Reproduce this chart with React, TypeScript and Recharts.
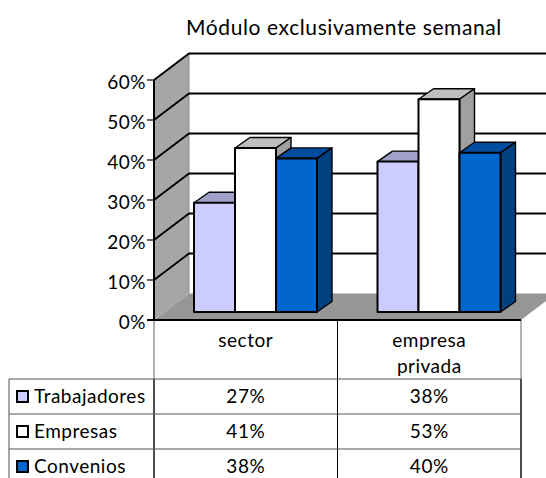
import React from 'react';
import { BarChart, Bar, XAxis, YAxis, Customized } from 'recharts';

const categories = ['sector', 'empresa privada'];
const categoryLines = [['sector'], ['empresa', 'privada']];
const trabajadores = [27.3, 37.6];
const empresas = [41, 53.2];
const convenios = [38.4, 39.8];
const yTicks = [0, 10, 20, 30, 40, 50, 60];

const seriesNames = ['Trabajadores', 'Empresas', 'Convenios'];
const seriesValues = [trabajadores, empresas, convenios];
const seriesColors = [
  { front: '#CCCCFF', top: '#A0A0C8', side: '#9898C0' },
  { front: '#FFFFFF', top: '#BFBFBF', side: '#A0A0A0' },
  { front: '#0066CC', top: '#004C9E', side: '#004080' },
];

const chartData = categories.map((name, i) => ({
  name,
  trabajadores: trabajadores[i],
  empresas: empresas[i],
  convenios: convenios[i],
}));

const FONT = 'Lato, "Open Sans", sans-serif';
const FONT_SIZE = 19;
const SPACING = 0.5;

// plot box of the front plane
const LEFT = 154;
const RIGHT = 521;
const TOP = 80;
const BOTTOM = 320;
const DEPTH_X = 35;
const DEPTH_Y = 26.5;
// bars stand part way into the floor
const BAR_DX = 10;
const BAR_DY = 8;
const BAR_DEPTH_X = 15;
const BAR_DEPTH_Y = 10.5;
// data table
const TABLE_LEFT = 9;
const ROW_TOPS = [379, 414, 449, 484];
const ROW_CENTERS = [397, 432, 467];
const MID_X = 337.5;

const tickY = (v: number) => BOTTOM - ((BOTTOM - TOP) * v) / 60;

const Walls = () => (
  <g>
    <rect x={LEFT + DEPTH_X} y={TOP - DEPTH_Y} width={400} height={BOTTOM - TOP} fill="#fff" />
    <polygon
      points={`${LEFT},${TOP} ${LEFT + DEPTH_X},${TOP - DEPTH_Y} ${LEFT + DEPTH_X},${BOTTOM - DEPTH_Y} ${LEFT},${BOTTOM}`}
      fill="#A6A6A6"
    />
    <line x1={LEFT + DEPTH_X} x2={LEFT + DEPTH_X} y1={TOP - DEPTH_Y} y2={BOTTOM - DEPTH_Y} stroke="#8c8c8c" />
    <polygon
      points={`${LEFT},${BOTTOM} ${LEFT + DEPTH_X},${BOTTOM - DEPTH_Y} ${RIGHT + DEPTH_X},${BOTTOM - DEPTH_Y} ${RIGHT},${BOTTOM}`}
      fill="#969696"
    />
    {yTicks.slice(1).map((v) => (
      <polyline
        key={v}
        points={`${LEFT},${tickY(v)} ${LEFT + DEPTH_X},${tickY(v) - DEPTH_Y} ${RIGHT + DEPTH_X},${tickY(v) - DEPTH_Y}`}
        fill="none"
        stroke="#000"
        strokeWidth={1.8}
      />
    ))}
  </g>
);

const Bar3D = (props: any) => {
  const { x, y, width, height, colors } = props;
  const l = x + BAR_DX;
  const t = y - BAR_DY;
  const r = l + width;
  const b = t + height;
  return (
    <g stroke="#000" strokeLinejoin="round">
      <polygon
        points={`${l},${t} ${l + BAR_DEPTH_X},${t - BAR_DEPTH_Y} ${r + BAR_DEPTH_X},${t - BAR_DEPTH_Y} ${r},${t}`}
        fill={colors.top}
        strokeWidth={1.4}
      />
      <polygon
        points={`${r},${t} ${r + BAR_DEPTH_X},${t - BAR_DEPTH_Y} ${r + BAR_DEPTH_X},${b - BAR_DEPTH_Y} ${r},${b}`}
        fill={colors.side}
        strokeWidth={1.4}
      />
      <rect x={l} y={t} width={width} height={height} fill={colors.front} strokeWidth={2} />
    </g>
  );
};

// category label plus the table column underneath it
const ColumnTick = (props: any) => {
  const { x, index } = props;
  const lines = categoryLines[index] ?? [];
  return (
    <g fontFamily={FONT} fontSize={FONT_SIZE} letterSpacing={SPACING} fill="#000" textAnchor="middle">
      {lines.map((line, i) => (
        <text key={line} x={x} y={346.5 + i * 26} fill="#000">
          {line}
        </text>
      ))}
      {seriesValues.map((vals, row) => (
        <text key={row} x={x} y={ROW_CENTERS[row] + 6} fill="#000">
          {Math.round(vals[index])}%
        </text>
      ))}
    </g>
  );
};

const DataTable = () => (
  <g>
    <line x1={LEFT} x2={LEFT} y1={BOTTOM} y2={ROW_TOPS[0]} stroke="#7f7f7f" strokeWidth={1.2} />
    <line x1={RIGHT} x2={RIGHT} y1={BOTTOM} y2={ROW_TOPS[0]} stroke="#7f7f7f" strokeWidth={1.2} />
    <line x1={MID_X} x2={MID_X} y1={BOTTOM} y2={478} stroke="#000" />
    <line x1={LEFT} x2={LEFT} y1={ROW_TOPS[0]} y2={478} stroke="#000" strokeWidth={1.4} />
    <line x1={RIGHT} x2={RIGHT} y1={ROW_TOPS[0]} y2={478} stroke="#000" strokeWidth={1.4} />
    <line x1={TABLE_LEFT} x2={TABLE_LEFT} y1={ROW_TOPS[0]} y2={478} stroke="#555" />
    {ROW_TOPS.slice(0, 3).map((rowY) => (
      <line key={rowY} x1={TABLE_LEFT} x2={RIGHT} y1={rowY} y2={rowY} stroke="#555" strokeWidth={1.2} />
    ))}
    <line x1={LEFT - 7} x2={RIGHT} y1={BOTTOM} y2={BOTTOM} stroke="#000" strokeWidth={2} />
    {seriesNames.map((name, i) => (
      <g key={name}>
        <rect
          x={17}
          y={ROW_CENTERS[i] - 6}
          width={11}
          height={11}
          fill={seriesColors[i].front}
          stroke="#000"
          strokeWidth={2}
        />
        <text
          x={34}
          y={ROW_CENTERS[i] + 6}
          fontFamily={FONT}
          fontSize={FONT_SIZE}
          letterSpacing={SPACING}
          fill="#000"
        >
          {name}
        </text>
      </g>
    ))}
    <text x={344} y={35} textAnchor="middle" fontFamily={FONT} fontSize={21} letterSpacing={0.6} fill="#000">
      Módulo exclusivamente semanal
    </text>
  </g>
);

export default function App() {
  return (
    <div style={{ position: 'absolute', left: 0, top: 0, width: 546, height: 478, background: '#fff' }}>
      <BarChart
        width={546}
        height={478}
        data={chartData}
        margin={{ top: TOP, right: 546 - RIGHT, left: LEFT - 60, bottom: 478 - BOTTOM - 30 }}
        barCategoryGap={30}
        barGap={0}
      >
        <Customized component={Walls} />
        <XAxis
          dataKey="name"
          axisLine={false}
          tickLine={false}
          interval={0}
          height={30}
          tick={<ColumnTick />}
        />
        <YAxis
          width={60}
          domain={[0, 60]}
          ticks={yTicks}
          tickFormatter={(v: number) => `${v}%`}
          tickSize={7}
          tickMargin={1}
          axisLine={{ stroke: '#000', strokeWidth: 2 }}
          tickLine={{ stroke: '#000', strokeWidth: 1.2 }}
          tick={{ fill: '#000', fontSize: FONT_SIZE, fontFamily: FONT, letterSpacing: SPACING, dy: 2 }}
        />
        <Bar dataKey="trabajadores" isAnimationActive={false} shape={<Bar3D colors={seriesColors[0]} />} />
        <Bar dataKey="empresas" isAnimationActive={false} shape={<Bar3D colors={seriesColors[1]} />} />
        <Bar dataKey="convenios" isAnimationActive={false} shape={<Bar3D colors={seriesColors[2]} />} />
        <Customized component={DataTable} />
      </BarChart>
    </div>
  );
}
